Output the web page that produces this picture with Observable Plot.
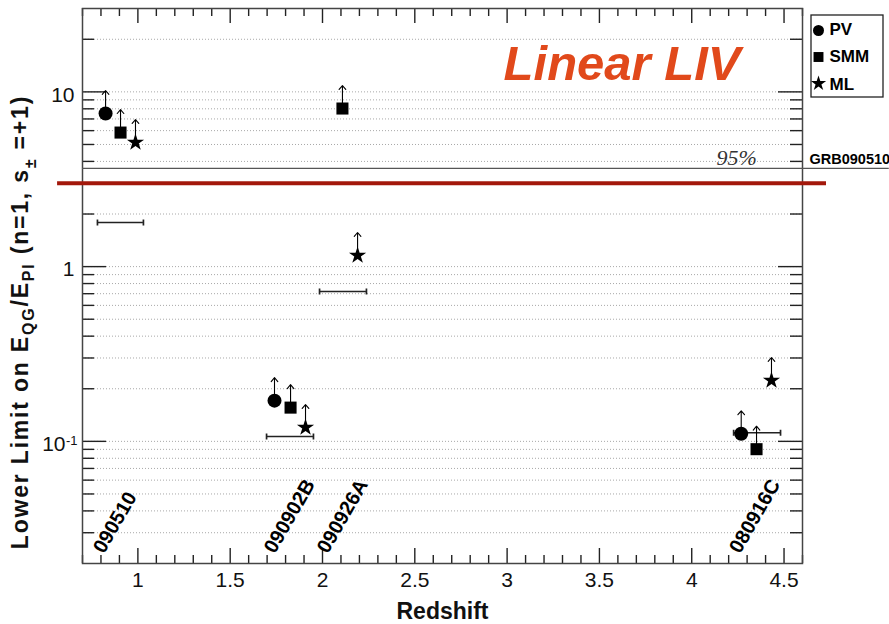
<!DOCTYPE html>
<html><head><meta charset="utf-8">
<script src="https://cdn.jsdelivr.net/npm/d3@7"></script>
<script src="https://cdn.jsdelivr.net/npm/@observablehq/plot@0.6"></script>
<style>
html,body{margin:0;padding:0;background:#fff;}
#chart{width:889px;height:624px;}
</style></head><body><div id="chart"></div>
<script>
// ---------------- data ----------------
const grbNames = ["090510", "090902B", "090926A", "080916C"];
const grbLabelZ = [0.816, 1.742, 2.029, 4.262];
const grbLabelY = 0.0225;

const methods = ["PV", "SMM", "ML"];
const pvZ = [0.825, 1.740, 4.268];
const pvLimit = [7.52, 0.171, 0.1105];
const smmZ = [0.906, 1.827, 2.108, 4.351];
const smmLimit = [5.85, 0.156, 8.03, 0.0902];
const mlZ = [0.987, 1.908, 2.190, 4.432];
const mlLimit = [5.13, 0.120, 1.158, 0.223];

const barLow = [0.781, 1.697, 1.984, 4.227];
const barHigh = [1.030, 1.951, 2.238, 4.481];
const barLimit = [1.788, 0.1066, 0.7206, 0.112];

const planckLimit = 3.0;      // thick red line
const grb95Limit = 3.65;      // GRB090510 95% line

const xTickLabels = [1, 1.5, 2, 2.5, 3, 3.5, 4, 4.5];
const yTickValues = [10, 1, 0.1];
const yTickBase = ["10", "1", "10"];
const yTickExp = ["", "", "-1"];

// ---------------- derived tables ----------------
const toRows = (zs, vs, m) => zs.map((z, i) => ({method: m, z, v: vs[i]}));
const pv = toRows(pvZ, pvLimit, "PV");
const smm = toRows(smmZ, smmLimit, "SMM");
const ml = toRows(mlZ, mlLimit, "ML");
const allPts = [...pv, ...smm, ...ml];
const bars = barLimit.map((v, i) => ({v, lo: barLow[i], hi: barHigh[i]}));
const caps = bars.flatMap(b => [{z: b.lo, v: b.v}, {z: b.hi, v: b.v}]);
const labels = grbNames.map((name, i) => ({name, z: grbLabelZ[i]}));

const xMin = 0.7, xMax = 4.6;
const xMinor = d3.range(7, 47).map(d => d / 10).filter(d => Math.abs(d * 2 - Math.round(d * 2)) > 1e-6);
const yMinor = [0.01, 0.1, 1, 10].flatMap(dec => [2,3,4,5,6,7,8,9].map(m => +(m * dec).toPrecision(3)))
  .filter(d => d > 0.02 && d < 30);
const yGrid = [...yMinor, 0.1, 1, 10];

const arrowFactor = Math.pow(10, 23 * 3.1761 / 555);
const capSymbol = {draw(ctx, size) { const h = Math.sqrt(size / Math.PI); ctx.moveTo(0, -h); ctx.lineTo(0, h); }};

const FW = 720, FH = 555;
const ink = "#222";
const font = "'Liberation Sans', Arial, Helvetica, sans-serif";

const legendMarks = methods.flatMap((m, i) => [
  Plot.dot([m], {frameAnchor: "top-right", dx: 16, dy: [22, 48.5, 75][i],
    symbol: ["circle", "square", "star"][i], r: [5.5, 5.6, 4.8][i], fill: "#000"}),
  Plot.text([m], {frameAnchor: "top-right", dx: 27, dy: [21.5, 48, 76][i], text: d => d,
    textAnchor: "start", lineAnchor: "middle", fontSize: 17, fontWeight: "bold", fill: "#000"})
]);

const chart = Plot.plot({
  width: 889, height: 624,
  marginLeft: 82, marginRight: 87, marginTop: 8, marginBottom: 61,
  style: {fontFamily: font, background: "white", overflow: "visible"},
  x: {domain: [xMin, xMax], axis: null},
  y: {type: "log", domain: [0.02, 30], axis: null},
  marks: [
    // grid
    Plot.ruleY(yGrid, {y: d => d, stroke: "#a8a8a8", strokeWidth: 1, strokeDasharray: "1,2"}),
    // ticks bottom/top
    Plot.tickX(xTickLabels, {x: d => d, insetTop: FH - 15, stroke: ink, strokeWidth: 1.4}),
    Plot.tickX(xMinor, {x: d => d, insetTop: FH - 8, stroke: ink, strokeWidth: 1.4}),
    Plot.tickX(xTickLabels, {x: d => d, insetBottom: FH - 15, stroke: ink, strokeWidth: 1.4}),
    Plot.tickX(xMinor, {x: d => d, insetBottom: FH - 8, stroke: ink, strokeWidth: 1.4}),
    // ticks left/right
    Plot.tickY(yTickValues, {y: d => d, insetRight: FW - 24, stroke: ink, strokeWidth: 1.4}),
    Plot.tickY(yMinor, {y: d => d, insetRight: FW - 12, stroke: ink, strokeWidth: 1.4}),
    Plot.tickY(yTickValues, {y: d => d, insetLeft: FW - 24, stroke: ink, strokeWidth: 1.4}),
    Plot.tickY(yMinor, {y: d => d, insetLeft: FW - 12, stroke: ink, strokeWidth: 1.4}),
    Plot.frame({stroke: "#444", strokeWidth: 1.5}),
    // 95% line and Planck-scale line
    Plot.ruleY([grb95Limit], {y: d => d, x1: xMin, x2: 5.07, stroke: "#555", strokeWidth: 1.3}),
    Plot.ruleY([planckLimit], {y: d => d, x1: 0.565, x2: 4.73, stroke: "#a3180b", strokeWidth: 4}),
    Plot.text(["95%"], {x: 4.243, y: grb95Limit, dy: -3, text: d => d, textAnchor: "middle", lineAnchor: "bottom",
      fontFamily: "'Liberation Serif', 'Times New Roman', serif", fontStyle: "italic", fontSize: 22, fill: "#333"}),
    Plot.text(["GRB090510"], {x: 4.638, y: grb95Limit, dy: -4, text: d => d, textAnchor: "start", lineAnchor: "bottom",
      fontSize: 14.5, fontWeight: "bold", fill: "#000"}),
    // error bars
    Plot.ruleY(bars, {y: "v", x1: "lo", x2: "hi", stroke: ink, strokeWidth: 1.7}),
    Plot.dot(caps, {x: "z", y: "v", symbol: capSymbol, r: 3, fill: "none", stroke: ink, strokeWidth: 1.7}),
    // lower-limit arrows
    Plot.arrow(allPts, {x1: "z", x2: "z", y1: "v", y2: d => d.v * arrowFactor, stroke: "#000", strokeWidth: 1.1,
      headLength: 7, headAngle: 80}),
    // markers
    Plot.dot(pv, {x: "z", y: "v", symbol: "circle", r: 7, fill: "#000"}),
    Plot.dot(smm, {x: "z", y: "v", symbol: "square", r: 6.8, fill: "#000"}),
    Plot.dot(ml, {x: "z", y: "v", symbol: "star", r: 5.4, fill: "#000"}),
    // GRB labels
    Plot.text(labels, {x: "z", y: () => grbLabelY, text: "name", rotate: -60, textAnchor: "start", lineAnchor: "bottom",
      fontSize: 20, fontWeight: "bold", fill: "#000"}),
    // title inside
    Plot.text(["Linear LIV"], {x: 2.981, y: 11.77, text: d => d, textAnchor: "start", lineAnchor: "bottom",
      fontSize: 49, fontWeight: "bold", fontStyle: "italic", fill: "#e1491b"}),
    // tick labels
    Plot.text(xTickLabels, {x: d => d, frameAnchor: "bottom", lineAnchor: "top", dy: 9, text: d => String(d),
      fontSize: 21, fill: "#111"}),
    Plot.text(yTickValues, {y: d => d, frameAnchor: "left", textAnchor: "end", lineAnchor: "middle",
      dx: -8, dy: 3, fontSize: 21, fill: "#111", text: (d, i) => yTickExp[i] ? "" : yTickBase[i]}),
    Plot.text(yTickValues, {y: d => d, frameAnchor: "left", textAnchor: "end", lineAnchor: "middle",
      dx: -17, dy: 3, fontSize: 21, fill: "#111", text: (d, i) => yTickExp[i] ? yTickBase[i] : ""}),
    Plot.text(yTickValues, {y: d => d, frameAnchor: "left", textAnchor: "end", lineAnchor: "middle",
      dx: -5, dy: -1, fontSize: 13, fill: "#111", text: (d, i) => yTickExp[i]}),
    // x axis title
    Plot.text(["Redshift"], {frameAnchor: "bottom", dy: 55, text: d => d, lineAnchor: "bottom",
      fontSize: 23, fontWeight: "bold", fill: "#111"}),
    ...legendMarks
  ]
});

const svg = d3.select(chart);
// legend box
svg.append("rect").attr("x", 811).attr("y", 15).attr("width", 72).attr("height", 82)
  .attr("fill", "none").attr("stroke", "#222").attr("stroke-width", 1.3);
// y axis title with sub/superscripts
const yt = svg.append("text").attr("transform", "translate(28,322) rotate(-90)")
  .attr("text-anchor", "middle").attr("font-family", font).attr("font-weight", "bold")
  .attr("font-size", 23).attr("letter-spacing", "1.8px").attr("fill", "#111");
const parts = [["Lower Limit on E", 0, 23], ["QG", 6, 16], ["/E", -6, 23], ["Pl", 6, 16],
  [" (n=1, s", -6, 23], ["±", 8, 16], [" =+1)", -8, 23]];
parts.forEach(([t, dy, fs]) => yt.append("tspan").attr("dy", dy).attr("font-size", fs).text(t));

document.getElementById("chart").appendChild(chart);
</script>
</body></html>
